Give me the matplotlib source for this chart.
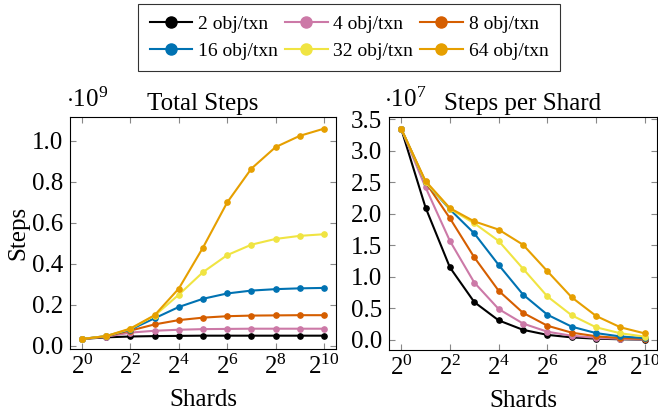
import numpy as np
import matplotlib
matplotlib.use("Agg")
import matplotlib.pyplot as plt

plt.rcParams["font.family"] = ["Liberation Serif", "DejaVu Serif"]
plt.rcParams["mathtext.fontset"] = "custom"
plt.rcParams["mathtext.rm"] = "Liberation Serif"
plt.rcParams["mathtext.it"] = "Liberation Serif:italic"

# shards = 2^0 .. 2^10
exponents = list(range(11))
shards = [2 ** e for e in exponents]

labels = ["2 obj/txn", "4 obj/txn", "8 obj/txn",
          "16 obj/txn", "32 obj/txn", "64 obj/txn"]
colors = ["#000000", "#CC79A7", "#D55E00", "#0072B2", "#F0E442", "#E69F00"]

# Total steps (x 1e9)
total_2 = [0.034, 0.042, 0.046, 0.048, 0.049, 0.050, 0.050, 0.050, 0.050, 0.050, 0.050]
total_4 = [0.034, 0.045, 0.065, 0.074, 0.079, 0.082, 0.083, 0.084, 0.084, 0.084, 0.084]
total_8 = [0.034, 0.047, 0.075, 0.105, 0.126, 0.138, 0.145, 0.148, 0.149, 0.150, 0.150]
total_16 = [0.034, 0.048, 0.080, 0.135, 0.190, 0.230, 0.256, 0.270, 0.277, 0.281, 0.283]
total_32 = [0.034, 0.048, 0.083, 0.148, 0.250, 0.360, 0.443, 0.494, 0.522, 0.537, 0.545]
total_64 = [0.034, 0.048, 0.085, 0.150, 0.280, 0.480, 0.700, 0.865, 0.970, 1.025, 1.060]

# Steps per shard (x 1e7)
per_2 = [3.35, 2.10, 1.15, 0.60, 0.31, 0.16, 0.08, 0.04, 0.02, 0.01, 0.005]
per_4 = [3.35, 2.42, 1.57, 0.91, 0.49, 0.26, 0.13, 0.066, 0.033, 0.017, 0.008]
per_8 = [3.35, 2.50, 1.93, 1.31, 0.78, 0.43, 0.225, 0.115, 0.058, 0.029, 0.015]
per_16 = [3.35, 2.50, 2.07, 1.69, 1.19, 0.72, 0.40, 0.21, 0.108, 0.055, 0.028]
per_32 = [3.35, 2.50, 2.08, 1.85, 1.57, 1.13, 0.69, 0.39, 0.20, 0.105, 0.053]
per_64 = [3.35, 2.52, 2.09, 1.88, 1.75, 1.51, 1.09, 0.675, 0.38, 0.20, 0.103]

totals = [total_2, total_4, total_8, total_16, total_32, total_64]
per_shard = [per_2, per_4, per_8, per_16, per_32, per_64]

W, H = 658, 412
fig = plt.figure(figsize=(W / 100, H / 100), dpi=100)
ax1 = fig.add_axes([70 / W, (H - 349) / H, 266 / W, 232 / H])
ax2 = fig.add_axes([389 / W, (H - 350) / H, 268 / W, 233 / H])

fs = 18

for ax, data, scale in [(ax1, totals, 1e9), (ax2, per_shard, 1e7)]:
    for vals, c, lab in zip(data, colors, labels):
        ax.plot(shards, np.array(vals) * scale, color=c, lw=1.5,
                marker="o", ms=3.8, label=lab)
    ax.set_xscale("log", base=2)
    ax.set_xlim(2 ** -0.5, 2 ** 10.5)
    ax.set_xticks([2 ** e for e in range(0, 11, 2)])
    ax.set_xticklabels([r"$2^{%d}$" % e for e in range(0, 11, 2)])
    ax.xaxis.set_minor_locator(matplotlib.ticker.NullLocator())
    ax.tick_params(direction="in", top=True, right=True, length=4,
                   color="#888888", labelsize=fs, pad=5)
    ax.tick_params(axis="x", pad=4)
    ax.set_xlabel("Shards", fontsize=fs, labelpad=7)
    for s in ax.spines.values():
        s.set_linewidth(0.8)

ax1.set_ylim(-0.015e9, 1.117e9)
ax1.set_yticks(np.arange(0, 1.01, 0.2) * 1e9)
ax1.set_yticklabels(["%.1f" % v for v in np.arange(0, 1.01, 0.2)])
ax1.set_ylabel("Steps", fontsize=fs, labelpad=2)
ax1.set_title("Total Steps", fontsize=fs, pad=5)
ax1.text(-0.015, 1.02, r"$\cdot10^{9}$", transform=ax1.transAxes,
         fontsize=fs, ha="left", va="bottom")

ax2.set_ylim(-0.16e7, 3.536e7)
ax2.set_yticks(np.arange(0, 3.51, 0.5) * 1e7)
ax2.set_yticklabels(["%.1f" % v for v in np.arange(0, 3.51, 0.5)])
ax2.set_title("Steps per Shard", fontsize=fs, pad=5)
ax2.text(-0.02, 1.02, r"$\cdot10^{7}$", transform=ax2.transAxes,
         fontsize=fs, ha="left", va="bottom")

# legend fills row by row: 2,4,8 on top, 16,32,64 below
handles, labs = ax1.get_legend_handles_labels()
order = [0, 3, 1, 4, 2, 5]
leg = fig.legend([handles[i] for i in order], [labs[i] for i in order],
                 loc="upper center", ncol=3,
                 bbox_to_anchor=(349 / W, 1 - 4 / H), borderaxespad=0,
                 fontsize=14, frameon=True, fancybox=False,
                 edgecolor="black", handlelength=2.2, handletextpad=0.3,
                 columnspacing=0.35, labelspacing=0.45, borderpad=0.6,
                 markerscale=2.1)
leg.get_frame().set_linewidth(0.8)

fig.savefig("out.png", dpi=100)
